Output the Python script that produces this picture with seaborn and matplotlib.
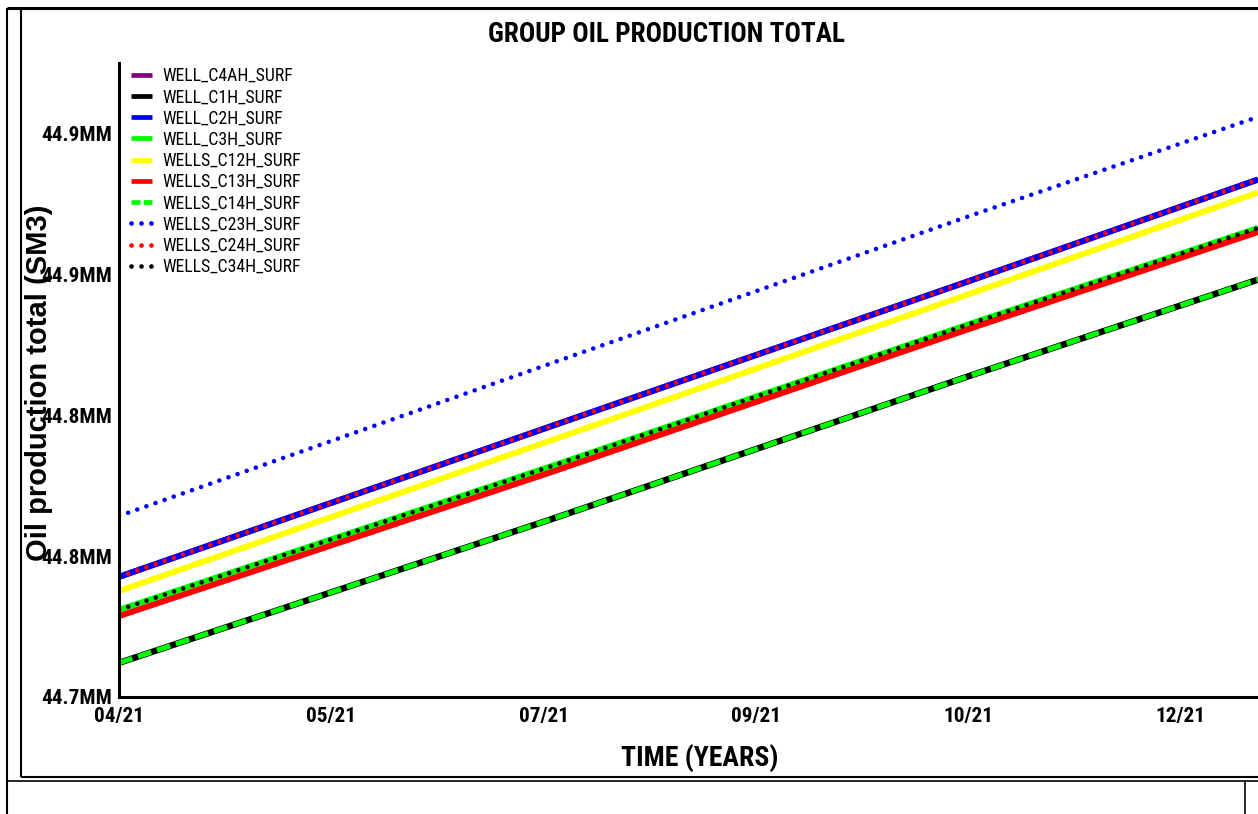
import matplotlib
matplotlib.use("Agg")
import matplotlib.pyplot as plt
from matplotlib import font_manager
from matplotlib.lines import Line2D
import seaborn as sns

# ---------------- data ----------------
days = [0, 106, 209, 279]  # days since 2021-04-01
oil_c4ah = [44.7426, 44.7961, 44.8479, 44.8835]
oil_c1h = [44.7121, 44.7631, 44.8142, 44.8480]
oil_c2h = [44.7426, 44.7961, 44.8479, 44.8835]
oil_c3h = [44.7309, 44.7819, 44.8326, 44.8663]
oil_c12h = [44.7376, 44.7911, 44.8433, 44.8789]
oil_c13h = [44.7287, 44.7798, 44.8309, 44.8649]
oil_c14h = [44.7121, 44.7631, 44.8142, 44.8480]
oil_c23h = [44.7642, 44.8184, 44.8709, 44.9057]
oil_c24h = [44.7426, 44.7961, 44.8479, 44.8835]
oil_c34h = [44.7309, 44.7819, 44.8326, 44.8663]

series_names = ["WELL_C4AH_SURF", "WELL_C1H_SURF", "WELL_C2H_SURF", "WELL_C3H_SURF",
                "WELLS_C12H_SURF", "WELLS_C13H_SURF", "WELLS_C14H_SURF",
                "WELLS_C23H_SURF", "WELLS_C24H_SURF", "WELLS_C34H_SURF"]
series_values = [oil_c4ah, oil_c1h, oil_c2h, oil_c3h, oil_c12h, oil_c13h,
                 oil_c14h, oil_c23h, oil_c24h, oil_c34h]

x_tick_days = [0, 52, 104, 156, 208, 260]
x_tick_labels = ["04/21", "05/21", "07/21", "09/21", "10/21", "12/21"]
y_tick_values = [44.70, 44.75, 44.80, 44.85, 44.90]
y_tick_labels = ["44.7MM", "44.8MM", "44.8MM", "44.9MM", "44.9MM"]

title = "GROUP OIL PRODUCTION TOTAL"
x_label = "TIME (YEARS)"
y_label = "Oil production total (SM3)"

# ---------------- styles ----------------
DOT = (0, (0.01, 2.1))
styles = {
    "WELL_C4AH_SURF": dict(color="#800080", ls="-", lw=4.3),
    "WELL_C1H_SURF": dict(color="#000000", ls="-", lw=4.6),
    "WELL_C2H_SURF": dict(color="#0000FF", ls="-", lw=4.3),
    "WELL_C3H_SURF": dict(color="#00FF00", ls="-", lw=4.3),
    "WELLS_C12H_SURF": dict(color="#FFFF00", ls="-", lw=4.3),
    "WELLS_C13H_SURF": dict(color="#FF0000", ls="-", lw=4.3),
    "WELLS_C14H_SURF": dict(color="#00FF00", ls=(0, (2.8, 1.2)), lw=3.6),
    "WELLS_C23H_SURF": dict(color="#0000FF", ls=DOT, lw=3.3, dash_capstyle="round"),
    "WELLS_C24H_SURF": dict(color="#FF0000", ls=DOT, lw=3.3, dash_capstyle="round"),
    "WELLS_C34H_SURF": dict(color="#000000", ls=DOT, lw=3.3, dash_capstyle="round"),
}

sns.set_style("white")


def has_font(name):
    try:
        font_manager.findfont(font_manager.FontProperties(family=name), fallback_to_default=False)
        return True
    except Exception:
        return False


narrow = None
for cand in ["Liberation Sans Narrow", "Arial Narrow", "Roboto Condensed", "Nimbus Sans Narrow"]:
    if has_font(cand):
        narrow = cand
        break
if narrow is None:
    narrow = "Liberation Sans"
    k = 0.85  # shrink to mimic narrow widths
else:
    k = 1.0
wide = "Liberation Sans" if has_font("Liberation Sans") else "DejaVu Sans"

plt.rcParams["font.family"] = [narrow, "DejaVu Sans"]
for key in ["text.color", "axes.labelcolor", "xtick.color", "ytick.color", "axes.edgecolor"]:
    plt.rcParams[key] = "black"

W, H = 1258, 814
fig = plt.figure(figsize=(W / 100, H / 100), dpi=100)
fig.patch.set_facecolor("white")
ax = fig.add_axes([119 / W, (H - 697) / H, (W - 119) / W, (697 - 63) / H])

for name, vals in zip(series_names, series_values):
    st = styles[name]
    sns.lineplot(x=days, y=vals, ax=ax, label=name, color=st["color"], linestyle=st["ls"],
                 linewidth=st["lw"], dash_capstyle=st.get("dash_capstyle", "butt"),
                 solid_capstyle="butt")

ax.set_xlim(0, 279)
ax.set_ylim(44.70, 44.70 + 634 / 2820)

ax.set_xticks(x_tick_days)
ax.set_xticklabels(x_tick_labels)
ax.set_xticks([d + 26 for d in x_tick_days[:-1]], minor=True)
ax.set_yticks(y_tick_values)
ax.set_yticklabels(y_tick_labels)
ax.set_yticks([v + 0.025 for v in y_tick_values[:-1]], minor=True)

for sp in ["top", "right"]:
    ax.spines[sp].set_visible(False)
for sp in ["left", "bottom"]:
    ax.spines[sp].set_linewidth(2.2)
    ax.spines[sp].set_color("black")

ax.tick_params(which="major", direction="out", length=4.5, width=1.5, color="black")
ax.tick_params(which="minor", direction="out", length=2.2, width=1.3, color="black")
ax.tick_params(axis="x", which="major", pad=3)
ax.tick_params(axis="y", which="major", pad=0.5)
for lab in ax.get_xticklabels() + ax.get_yticklabels():
    lab.set_fontfamily([narrow, "DejaVu Sans"])
    lab.set_fontweight("bold")
    lab.set_fontsize(15.3 * k)
    lab.set_color("black")

ax.set_xlabel(x_label, fontsize=20 * k, fontweight="bold", color="black", family=[narrow, "DejaVu Sans"])
ax.xaxis.set_label_coords((700 - 119) / 1139, (697 - 758) / 634)
ax.xaxis.label.set_verticalalignment("center")

ax.set_ylabel(y_label, fontsize=21, fontweight="bold", color="black", family=[wide, "DejaVu Sans"])
ax.yaxis.set_label_coords((39 - 119) / 1139, (697 - 383) / 634)
ax.yaxis.label.set_verticalalignment("center")

fig.suptitle(title, x=667 / W, y=1 - 34 / H, va="center", fontsize=19.5 * k, fontweight="bold",
             color="black", family=[narrow, "DejaVu Sans"])

fs_leg = 12.8 * k
leg = ax.legend(loc="upper left", bbox_to_anchor=(131 / W, 1 - 67 / H), bbox_transform=fig.transFigure,
                frameon=False, borderpad=0, borderaxespad=0,
                labelspacing=(21 * 0.72 / fs_leg) - 1.0,
                handlelength=21 * 0.72 / fs_leg, handletextpad=10 * 0.72 / fs_leg,
                prop={"family": [narrow, "DejaVu Sans"], "size": fs_leg})
for t in leg.get_texts():
    t.set_color("black")
for h, name in zip(leg.get_lines(), series_names):
    h.set_linewidth(3.4)
    if name == "WELLS_C14H_SURF":
        h.set_linestyle((0, (1.9, 0.7)))


# panel frame decorations
def fline(x0, y0, x1, y1, lw):
    fig.add_artist(Line2D([x0 / W, x1 / W], [1 - y0 / H, 1 - y1 / H], transform=fig.transFigure,
                          color="black", lw=lw, solid_capstyle="butt"))


fline(7, 8, W, 8, 2.2)
fline(7, 8, 7, H, 1.5)
fline(21, 8, 21, 777, 1.5)
fline(21, 777, W, 777, 1.5)
fline(7, 781, W, 781, 1.2)
fline(1245, 781, 1245, H, 1.2)

fig.savefig("out.png", dpi=100, facecolor="white")
